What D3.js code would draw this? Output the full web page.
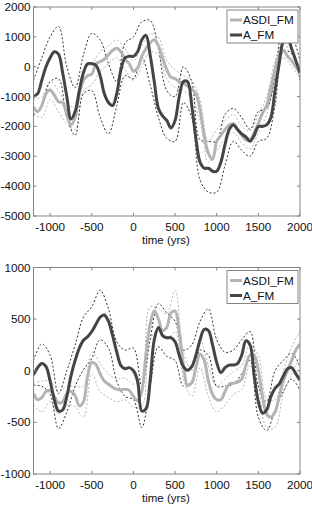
<!DOCTYPE html>
<html>
<head>
<meta charset="utf-8">
<script src="https://cdn.jsdelivr.net/npm/d3@7"></script>
<style>
  body { margin: 0; background: #fff; }
  text { font-family: "Liberation Sans", Arial, sans-serif; font-size: 11.7px; fill: #111; }
</style>
</head>
<body>
<svg id="chart"></svg>
<script>
// time grids (years)
const yearsFine = d3.range(-1200, 2001, 50);
const yearsCoarse = d3.range(-1200, 2001, 100);

// ---- top panel ----
const topAFM = [-1000, -900, -450, 0, 300, 500, 420, -200, -1000, -1750, -1500, -800, -200, 100, 100, 50,
  -300, -900, -1200, -1300, -900, -100, 300, 350, 350, 500, 900, 1050, 400, -500, -1400, -1650, -1800,
  -2050, -1800, -1000, -500, -500, -1300, -2400, -3200, -3400, -3400, -3500, -3500, -3200, -2600, -2100,
  -1950, -2100, -2250, -2350, -2500, -2300, -2000, -2000, -1950, -1700, -800, 100, 850, 950, 600, 200, -200];
const topASDI = [-1350, -1500, -1300, -900, -780, -950, -1170, -1200, -1600, -1950, -1700, -900, -450, -300,
  -250, 100, 170, 250, 400, 550, 620, 500, 250, 100, -150, -50, 350, 600, 800, 900, 700, 300, -100, -350,
  -400, -500, -550, -650, -750, -900, -1450, -2300, -2900, -3100, -2500, -2300, -2100, -1950, -1900, -2100,
  -2300, -2450, -2450, -2200, -1900, -1550, -1300, -700, -100, 400, 550, 350, 200, 0, -200];
const topAUp = [-450, 300, 1000, 1350, 0, -700, 400, 1120, 900, 100, -500, 800, 1000, 1500, 1550, 600, -800,
  -1000, 0, -500, -2450, -2500, -2500, -1600, -1400, -1700, -2100, -1500, -1400, -300, 1300, 1050, 200];
const topALo = [-1620, -1300, -500, -400, -1700, -2300, -900, -800, -1700, -2250, -1300, -300, -400, 300, -600,
  -1700, -2400, -2500, -1200, -1700, -3800, -4200, -4200, -3300, -2500, -2800, -3000, -2500, -2400, -1300,
  500, 450, -450];
const topSUp = [-1100, -1000, -500, -800, -1300, -1300, -100, 100, 500, 700, 900, 600, 200, 700, 1100, 1000,
  200, -100, -300, -450, -1100, -2500, -2100, -1800, -1600, -2000, -2150, -1600, -1000, 200, 800, 400, -50];
const topSLo = [-1600, -1700, -1100, -1500, -1900, -2100, -800, -600, -150, 100, 300, -100, -450, 0, 500, 400,
  -400, -700, -800, -1050, -1800, -3200, -2800, -2400, -2200, -2550, -2750, -2200, -1600, -400, 300, 0, -350];
const topTicksY = [-5000, -4000, -3000, -2000, -1000, 0, 1000, 2000];

// ---- bottom panel ----
const botAFM = [-40, 30, 70, 40, -100, -280, -390, -380, -250, -50, 100, 220, 296, 330, 380, 450, 520, 540,
  480, 340, 180, 50, 20, 30, 0, -100, -390, -370, -100, 300, 420, 340, 320, 320, 280, 150, 40, 5, 40, 150,
  300, 400, 390, 250, 80, -20, 30, 55, 55, 70, 150, 290, 250, -50, -300, -410, -380, -250, -170, -130, -50,
  20, 30, -30, -90];
const botASDI = [-220, -280, -260, -200, -190, -250, -310, -300, -220, -200, -240, -340, -300, -50, 80, 60,
  -30, -100, -130, -160, -180, -185, -180, -190, -250, -290, -200, 150, 450, 580, 500, 390, 420, 560, 580,
  380, 50, -140, -120, 30, 160, 100, -100, -230, -280, -280, -200, -130, -120, -110, -80, 50, 150, 150, 0,
  -250, -420, -450, -400, -250, -100, 0, 100, 200, 260];
const botAUp = [100, 260, 150, -220, 0, 250, 520, 620, 780, 600, 280, 200, 220, -150, 300, 650, 560, 480, 200,
  250, 480, 600, 300, 180, 200, 300, 380, -150, -300, 0, 100, 170, 40];
const botALo = [-140, -150, -230, -560, -400, -150, 10, 120, 300, 220, -100, -250, -280, -550, -150, 230, 140,
  100, -150, -100, 200, 150, -150, -150, -130, -30, 100, -450, -580, -380, -200, -80, -190];
const botSUp = [-120, -100, -100, -200, -150, -150, -150, 180, 70, -30, -80, -70, -130, -60, 620, 600, 550, 780,
  180, 0, 300, 50, -150, -80, -10, 50, 250, 150, -270, -280, 0, 230, 380];
const botSLo = [-330, -400, -300, -420, -330, -350, -450, -30, -200, -260, -300, -280, -350, -350, 300, 400, 300,
  380, -80, -250, 30, -250, -400, -330, -230, -180, 50, -150, -550, -550, -220, -30, 130];
const botTicksY = [-1000, -500, 0, 500, 1000];

const ticksX = [-1000, -500, 0, 500, 1000, 1500, 2000];
const legendNames = ['ASDI_FM', 'A_FM'];

const dark = '#444', light = '#b4b4b4';
const width = 312, height = 507;
const svg = d3.select('#chart').attr('width', width).attr('height', height);

function panel(id, box, yDom, yTicks, series) {
  const x = d3.scaleLinear().domain([-1200, 2000]).range([box.x0, box.x1]);
  const y = d3.scaleLinear().domain(yDom).range([box.y1, box.y0]);
  const g = svg.append('g');

  g.append('clipPath').attr('id', id).append('rect')
    .attr('x', box.x0).attr('y', box.y0).attr('width', box.x1 - box.x0).attr('height', box.y1 - box.y0);

  const line = d3.line().x((d) => x(d[0])).y((d) => y(d[1])).curve(d3.curveCatmullRom.alpha(0.5));
  const lines = g.append('g').attr('clip-path', `url(#${id})`);
  series.forEach((s) => {
    lines.append('path').datum(d3.zip(s.t, s.v)).attr('d', line)
      .attr('fill', 'none').attr('stroke', s.color).attr('stroke-width', s.w)
      .attr('stroke-dasharray', s.dash || null).attr('stroke-linejoin', 'round');
  });

  // box with inward ticks
  const axisCol = '#858585';
  g.append('rect').attr('x', box.x0).attr('y', box.y0).attr('width', box.x1 - box.x0)
    .attr('height', box.y1 - box.y0).attr('fill', 'none').attr('stroke', axisCol).attr('stroke-width', 1);
  ticksX.forEach((t) => {
    g.append('line').attr('x1', x(t)).attr('x2', x(t)).attr('y1', box.y1).attr('y2', box.y1 - 3).attr('stroke', axisCol);
    g.append('line').attr('x1', x(t)).attr('x2', x(t)).attr('y1', box.y0).attr('y2', box.y0 + 3).attr('stroke', axisCol);
    g.append('text').attr('x', x(t)).attr('y', box.y1 + 15).attr('text-anchor', 'middle').text(t);
  });
  yTicks.forEach((t) => {
    g.append('line').attr('x1', box.x0).attr('x2', box.x0 + 3).attr('y1', y(t)).attr('y2', y(t)).attr('stroke', axisCol);
    g.append('line').attr('x1', box.x1).attr('x2', box.x1 - 3).attr('y1', y(t)).attr('y2', y(t)).attr('stroke', axisCol);
    g.append('text').attr('x', box.x0 - 3).attr('y', y(t) + 4).attr('text-anchor', 'end').text(t);
  });
  g.append('text').attr('x', 166).attr('y', box.y1 + 28).attr('text-anchor', 'middle')
    .style('font-size', '11.5px').text('time (yrs)');

  // legend
  const lg = g.append('g').attr('transform', `translate(227,${box.y0 + 3})`);
  lg.append('rect').attr('width', 71).attr('height', 33).attr('fill', '#fff').attr('stroke', axisCol);
  [light, dark].forEach((c, i) => {
    const yy = 10 + i * 15;
    lg.append('line').attr('x1', 3).attr('x2', 15).attr('y1', yy).attr('y2', yy)
      .attr('stroke', c).attr('stroke-width', 3);
    lg.append('text').attr('x', 16).attr('y', yy + 4).text(legendNames[i]);
  });
}

panel('clipTop', { x0: 33.5, x1: 300, y0: 7, y1: 216 }, [-5000, 2000], topTicksY, [
  { t: yearsCoarse, v: topSUp, color: light, w: 1, dash: '2,2' },
  { t: yearsCoarse, v: topSLo, color: light, w: 1, dash: '2,2' },
  { t: yearsCoarse, v: topAUp, color: '#333', w: 1, dash: '2,2' },
  { t: yearsCoarse, v: topALo, color: '#333', w: 1, dash: '2,2' },
  { t: yearsFine, v: topASDI, color: light, w: 3 },
  { t: yearsFine, v: topAFM, color: dark, w: 3 }
]);

panel('clipBot', { x0: 33.5, x1: 300, y0: 267.5, y1: 474 }, [-1000, 1000], botTicksY, [
  { t: yearsCoarse, v: botSUp, color: light, w: 1, dash: '2,2' },
  { t: yearsCoarse, v: botSLo, color: light, w: 1, dash: '2,2' },
  { t: yearsCoarse, v: botAUp, color: '#333', w: 1, dash: '2,2' },
  { t: yearsCoarse, v: botALo, color: '#333', w: 1, dash: '2,2' },
  { t: yearsFine, v: botASDI, color: light, w: 3 },
  { t: yearsFine, v: botAFM, color: dark, w: 3 }
]);
</script>
</body>
</html>
